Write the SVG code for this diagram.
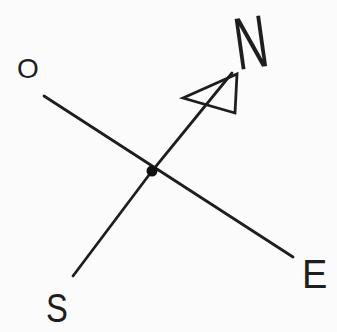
<svg xmlns="http://www.w3.org/2000/svg" width="337" height="332" viewBox="0 0 337 332">
<style>
.ln{stroke:#1e1e1e;stroke-width:2.8;stroke-linecap:round;fill:none}
.lbl{font-family:"Liberation Sans",Arial,sans-serif;fill:#1e1e1e;font-weight:normal}
</style>
<rect width="337" height="332" fill="#fbfbfb"/>
<g id="connectors">
<path class="ln" d="M44 96 L293 257"/>
<path class="ln" d="M73 276 L152 171 L232 73"/>
<path class="ln" d="M183 98 L237 74 L235 113 Z"/>
</g>
<g id="center"><circle cx="152" cy="171" r="5.5" fill="#111"/></g>
<g id="label-O"><text class="lbl" x="0" y="0" font-size="28" transform="translate(17,78)">O</text></g>
<g id="label-N"><text class="lbl" x="0" y="0" font-size="74" transform="translate(238,70) rotate(-8) scale(0.62,1)">N</text></g>
<g id="label-E"><text class="lbl" x="0" y="0" font-size="40" transform="translate(302,288) scale(0.95,1)">E</text></g>
<g id="label-S"><text class="lbl" x="0" y="0" font-size="40" transform="translate(46,322) scale(0.82,1)">S</text></g>
</svg>
